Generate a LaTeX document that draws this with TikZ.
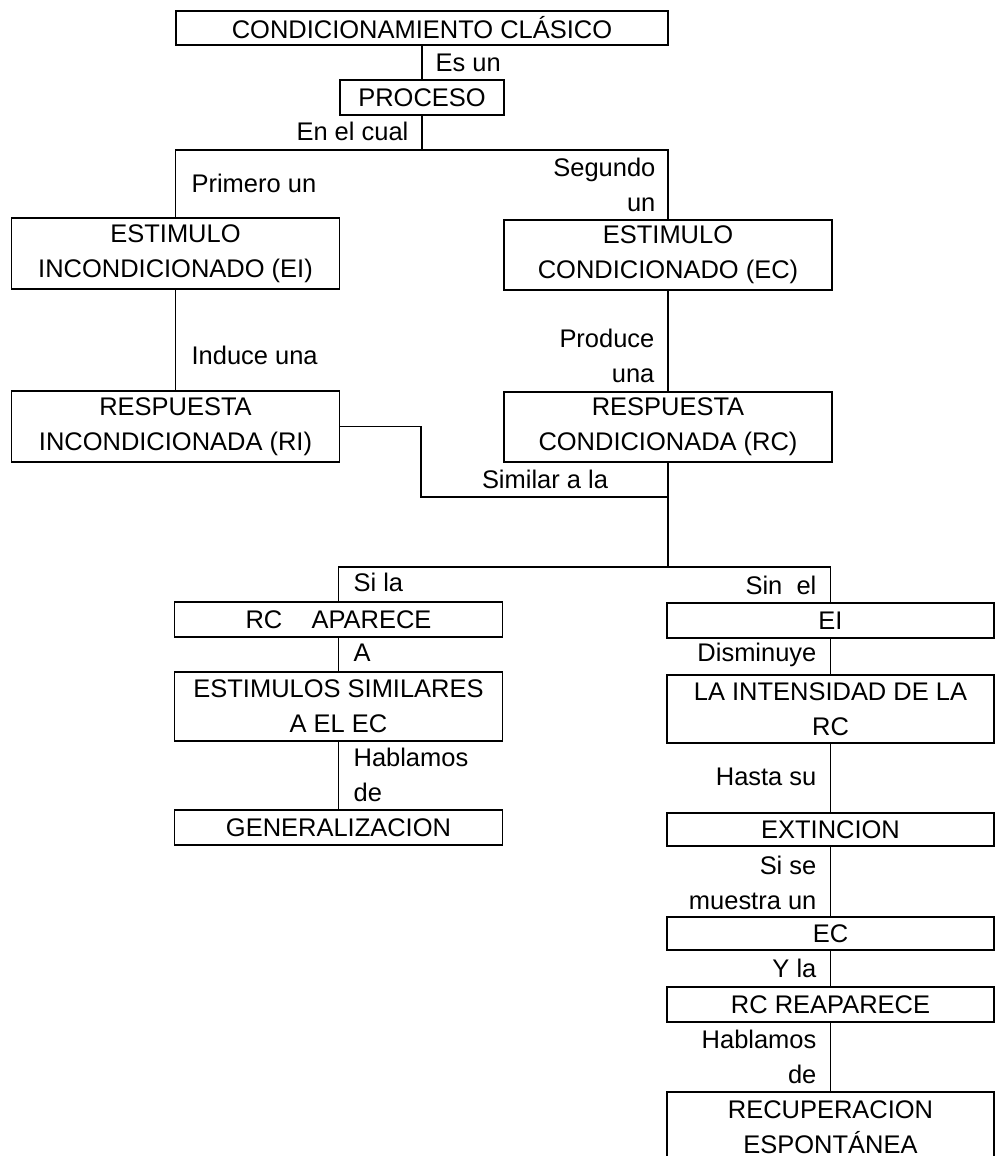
\documentclass[tikz,border=0pt]{standalone}
\usepackage{fontspec}
\setmainfont{Liberation Sans}
\tikzset{
	caja/.style={draw, inner sep=0pt, align=center, minimum width=6.56cm, minimum height=0.7cm},
	cajaalta/.style={caja, minimum height=1.4cm},
	etiq/.style={inner sep=0pt},
}
\begin{document}
\begin{tikzpicture}[x=0.02cm, y=-0.02cm, line width=0.7pt, font=\fontsize{14.5}{20}\selectfont]
		\useasboundingbox (0,0) rectangle (997,1156);
		\node [caja, minimum width=9.84cm, minimum height=0.68cm](cc) at (422,28) {CONDICIONAMIENTO CLÁSICO};
		\node [caja, minimum width=3.28cm](proc) at (422,97.5) {PROCESO};
		\node [cajaalta, minimum height=1.42cm](ei) at (175.5,253.5) {ESTIMULO\\INCONDICIONADO (EI)};
		\node [cajaalta](ec) at (668,255) {ESTIMULO\\CONDICIONADO (EC)};
		\node [cajaalta, minimum height=1.42cm](ri) at (175.5,426.5) {RESPUESTA\\INCONDICIONADA (RI)};
		\node [cajaalta](rc) at (668,427) {RESPUESTA\\CONDICIONADA (RC)};
		\node [caja](rcap) at (338.5,619.5) {RC\hspace{1.15em}APARECE};
		\node [cajaalta, minimum height=1.38cm](estsim) at (338.5,706.5) {ESTIMULOS SIMILARES\\A EL EC};
		\node [caja](gen) at (338.5,827.5) {GENERALIZACION};
		\node [caja, minimum width=6.54cm](eib) at (830.5,620.5) {EI};
		\node [cajaalta, minimum width=6.54cm, minimum height=1.36cm](inten) at (830.5,709) {LA INTENSIDAD DE LA\\RC};
		\node [caja, minimum width=6.54cm, minimum height=0.66cm](ext) at (830.5,829.5) {EXTINCION};
		\node [caja, minimum width=6.54cm, minimum height=0.66cm](ecb) at (830.5,933.5) {EC};
		\node [caja, minimum width=6.54cm](reap) at (830.5,1004.5) {RC REAPARECE};
		\node [cajaalta, minimum width=6.54cm](recup) at (830.5,1127) {RECUPERACION\\ESPONTÁNEA};
		
		\coordinate (b1) at (422,150);
		\coordinate (b2) at (421,497);
		\coordinate (b3) at (668,567);
		\draw (cc.south)--(proc.north);
		\draw (proc.south)--(b1);
		\draw (ei.north)|-(b1)-|(ec.north);
		\draw (ei.south)--(ri.north);
		\draw (ec.south)--(rc.north);
		\draw (ri.east)-|(b2)--(rc.south|-b2);
		\draw (rc.south)--(b3);
		\draw (rcap.north)|-(b3)-|(eib.north);
		\draw (rcap.south)--(estsim.north);
		\draw (estsim.south)--(gen.north);
		\draw (eib.south)--(inten.north);
		\draw (inten.south)--(ext.north);
		\draw (ext.south)--(ecb.north);
		\draw (ecb.south)--(reap.north);
		\draw (reap.south)--(recup.north);
		
		\node [etiq, anchor=west](l1) at (435,63) {Es un};
		\node [etiq, anchor=east](l2) at (409,131) {En el cual};
		\node [etiq, anchor=west](l3) at (191,183) {Primero un};
		\node [etiq, anchor=east, align=right](l4) at (656,184.5) {Segundo\\un};
		\node [etiq, anchor=west](l5) at (191,355) {Induce una};
		\node [etiq, anchor=east, align=right](l6) at (655,356) {Produce\\una};
		\node [etiq](l7) at (545,479) {Similar a la};
		\node [etiq, anchor=west](l8) at (353,582) {Si la};
		\node [etiq, anchor=west](l9) at (353,653) {A};
		\node [etiq, anchor=west, align=left](l10) at (353,774.5) {Hablamos\\de};
		\node [etiq, anchor=east](l11) at (817,585) {Sin\ \ el};
		\node [etiq, anchor=east](l12) at (817,655) {Disminuye};
		\node [etiq, anchor=east](l13) at (817,777) {Hasta su};
		\node [etiq, anchor=east, align=right](l14) at (817,882.5) {Si se\\muestra un};
		\node [etiq, anchor=east](l15) at (817,968) {Y la};
		\node [etiq, anchor=east, align=right](l16) at (817,1056.5) {Hablamos\\de};
		
		\end{tikzpicture}
\end{document}
